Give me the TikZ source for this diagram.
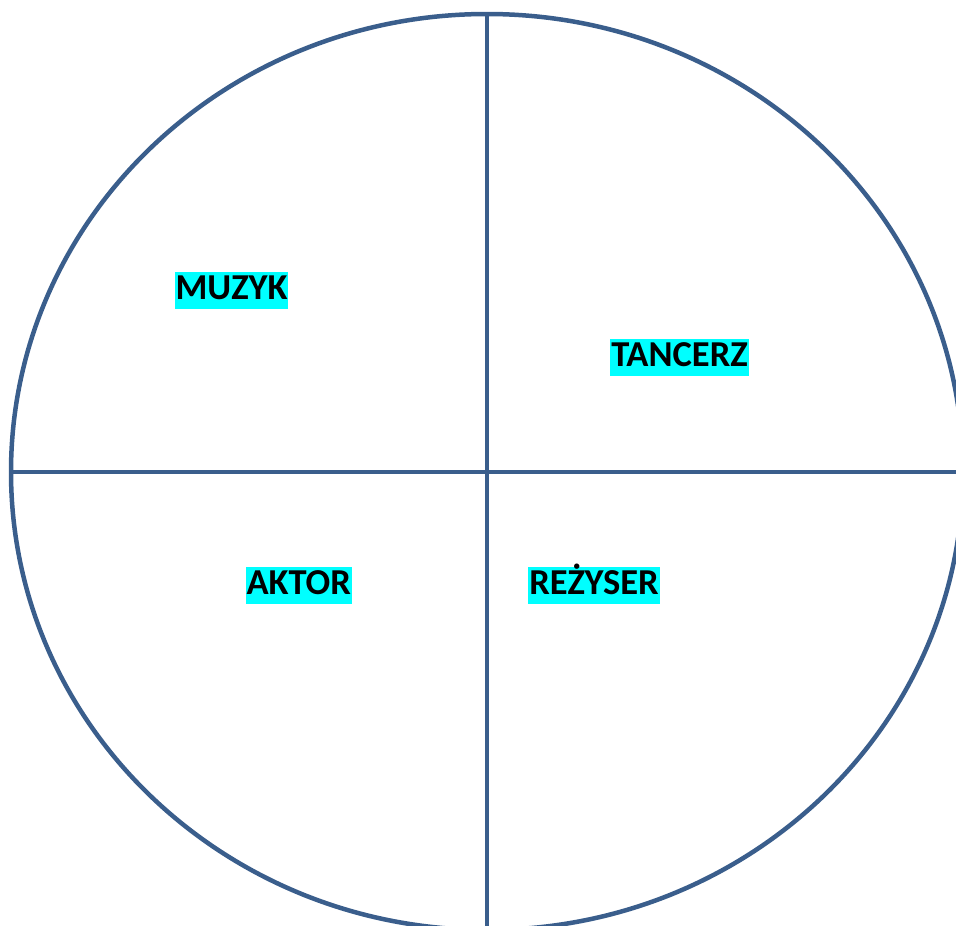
\documentclass[tikz,border=0pt]{standalone}
\usepackage{fontspec}
\setmainfont{Carlito}
\usepackage{tikz}
\usetikzlibrary{positioning}
\definecolor{ringblue}{HTML}{3A5E8C}
\definecolor{marker}{HTML}{00FFFF}

\begin{document}
\begin{tikzpicture}[
  x=1pt, y=-1pt,
  font=\fontsize{36.5}{42}\selectfont\bfseries,
  ring/.style={draw=ringblue, line width=4.5pt},
  role/.style={fill=marker, inner xsep=1pt, inner ysep=0pt,
    minimum height=37pt, text height=26pt, text depth=8pt}
]
\useasboundingbox (0,0) rectangle (956,926);
\clip (0,0) rectangle (956,926);
\coordinate (mid) at (487,472);
\draw[ring] (mid) ellipse [x radius=476, y radius=458];
\draw[ring] (487,14) -- (487,930);
\draw[ring] (11,472) -- (970,472);
\node[role] (muzyk) at (231.5,290.5) {MUZYK};
\node[role] (tancerz) at (679.5,357) {TANCERZ};
\node[role] (aktor) at (298.7,585.8) {AKTOR};
\node[role] (rezyser) at (594,585.5) {REŻYSER};
\end{tikzpicture}
\end{document}
